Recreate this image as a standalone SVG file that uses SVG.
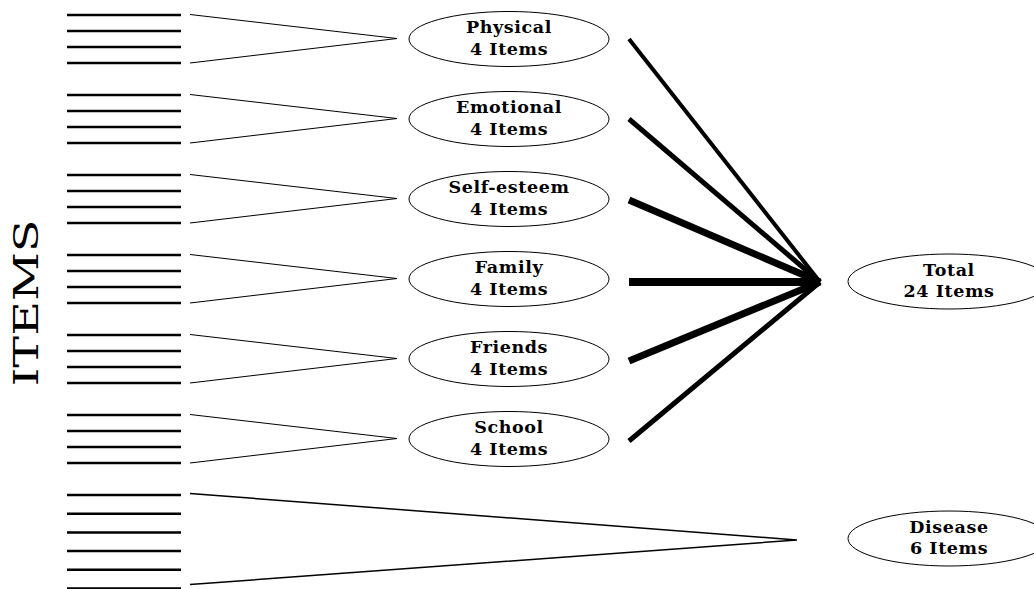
<svg xmlns="http://www.w3.org/2000/svg" width="1034" height="589" viewBox="0 0 1034 589">
<style>
.item{stroke:#000;stroke-width:2.5;fill:none}
.thin{stroke:#000;stroke-width:1;fill:none}
.dis{stroke:#000;stroke-width:1.5;fill:none}
.thick{stroke:#000;fill:none;stroke-linecap:butt}
.node ellipse{fill:#fff;stroke:#000;stroke-width:1}
.node text{font-family:"DejaVu Serif",serif;font-weight:bold;font-size:17.5px;letter-spacing:0.6px;text-anchor:middle;fill:#000}
.big{font-family:"DejaVu Serif","Liberation Serif",serif;font-size:33px;text-anchor:middle;fill:#000}
</style>
<rect width="1034" height="589" fill="#fff"/>
<text class="big" transform="translate(38,303) rotate(-90)" textLength="167" lengthAdjust="spacingAndGlyphs">ITEMS</text>
<g id="items">
<path class="item" d="M67 15H181M67 31H181M67 47H181M67 63H181"/>
<path class="item" d="M67 95H181M67 111H181M67 127H181M67 143H181"/>
<path class="item" d="M67 175H181M67 191H181M67 207H181M67 223H181"/>
<path class="item" d="M67 255H181M67 271H181M67 287H181M67 303H181"/>
<path class="item" d="M67 335H181M67 351H181M67 367H181M67 383H181"/>
<path class="item" d="M67 415H181M67 431H181M67 447H181M67 463H181"/>
<path class="item" d="M67 495H181M67 513.7H181M67 532.4H181M67 551.1H181M67 569.8H181M67 588.5H181"/>
</g>
<g id="connectors">
<path class="thin" d="M190 14.5L397 38.5L190 63"/>
<path class="thin" d="M190 94.5L397 118.5L190 143"/>
<path class="thin" d="M190 174.5L397 198.5L190 223"/>
<path class="thin" d="M190 254.5L397 278.5L190 303"/>
<path class="thin" d="M190 334.5L397 358.5L190 383"/>
<path class="thin" d="M190 414.5L397 438.5L190 463"/>
<path class="dis" d="M190 493.5L797 540L190 584.5"/>
<line class="thick" x1="629" y1="39" x2="820" y2="282" stroke-width="4"/>
<line class="thick" x1="629" y1="119" x2="820" y2="282" stroke-width="5"/>
<line class="thick" x1="629" y1="200" x2="820" y2="282" stroke-width="7"/>
<line class="thick" x1="629" y1="282" x2="820" y2="282" stroke-width="8"/>
<line class="thick" x1="629" y1="361" x2="820" y2="282" stroke-width="7"/>
<line class="thick" x1="629" y1="441" x2="820" y2="282" stroke-width="5"/>
</g>
<g id="physical" class="node"><ellipse cx="509" cy="39" rx="100" ry="27.5"/><text x="509" y="33">Physical</text><text x="509" y="55">4 Items</text></g>
<g id="emotional" class="node"><ellipse cx="509" cy="119" rx="100" ry="27.5"/><text x="509" y="113">Emotional</text><text x="509" y="135">4 Items</text></g>
<g id="selfesteem" class="node"><ellipse cx="509" cy="199" rx="100" ry="27.5"/><text x="509" y="193">Self-esteem</text><text x="509" y="215">4 Items</text></g>
<g id="family" class="node"><ellipse cx="509" cy="279" rx="100" ry="27.5"/><text x="509" y="273">Family</text><text x="509" y="295">4 Items</text></g>
<g id="friends" class="node"><ellipse cx="509" cy="359" rx="100" ry="27.5"/><text x="509" y="353">Friends</text><text x="509" y="375">4 Items</text></g>
<g id="school" class="node"><ellipse cx="509" cy="439" rx="100" ry="27.5"/><text x="509" y="433">School</text><text x="509" y="455">4 Items</text></g>
<g id="total" class="node"><ellipse cx="949" cy="281.5" rx="101" ry="27.5"/><text x="949" y="276">Total</text><text x="949" y="297">24 Items</text></g>
<g id="disease" class="node"><ellipse cx="949" cy="538.5" rx="101" ry="27.5"/><text x="949" y="533">Disease</text><text x="949" y="554">6 Items</text></g>
</svg>
